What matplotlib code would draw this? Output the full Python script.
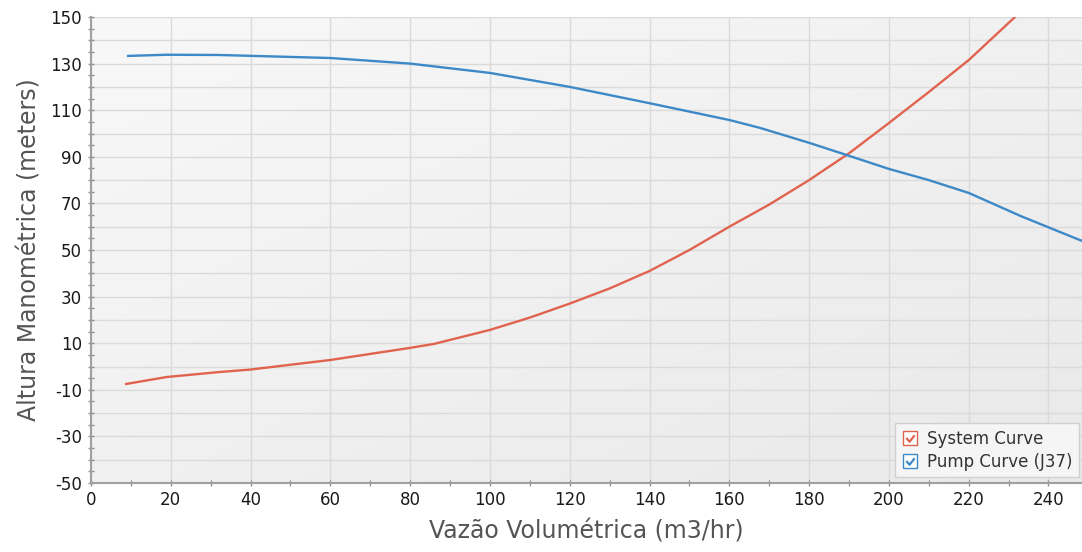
import matplotlib.pyplot as plt
import numpy as np
from matplotlib.lines import Line2D
from matplotlib.path import Path
from matplotlib.legend_handler import HandlerTuple
from matplotlib.colors import LinearSegmentedColormap

plt.rcParams['font.family'] = ['DejaVu Sans']

# curva do sistema
vazao_sis = [8.8, 19, 32, 40, 60, 80, 86, 100, 110, 120, 130, 140, 150,
             160, 170, 180, 190, 200, 210, 220, 231.6]
altura_sis = [-7.5, -4.5, -2.4, -1.3, 2.8, 8, 9.7, 15.7, 21, 27, 33.5, 41, 50,
              60, 69.5, 80, 91.5, 104.5, 117.8, 131.5, 150]

# curva da bomba (J37)
vazao_bomba = [9.3, 19, 32, 60, 80, 100, 120, 140, 160, 167.7, 180, 189,
               200, 210, 220, 233, 248.4]
altura_bomba = [133.3, 133.8, 133.7, 132.4, 130, 126, 120, 113, 105.8, 102.4,
                96, 91, 84.8, 80, 74.5, 64.6, 53.9]

cor_sis = '#e0634f'
cor_bomba = '#3d89c7'

fig = plt.figure(figsize=(10.82, 5.52), dpi=100)
ax = fig.add_axes([91/1082, 1 - 483/552, 1 - 91/1082, (483 - 17)/552])

# fundo em degrade
fundo = LinearSegmentedColormap.from_list('fundo', ['#f8f8f8', '#e9e9e9'])
gx, gy = np.meshgrid(np.linspace(0, 1, 200), np.linspace(0, 1, 200))
grad = 0.5 * gx + 0.5 * gy
ax.imshow(grad, extent=[0, 1, 0, 1], transform=ax.transAxes, aspect='auto',
          cmap=fundo, vmin=0, vmax=1, zorder=0, origin='upper')

ax.plot(vazao_sis, altura_sis, color=cor_sis, lw=1.7, zorder=3)
ax.plot(vazao_bomba, altura_bomba, color=cor_bomba, lw=1.7, zorder=3)

ax.set_xlim(0, 248.4)
ax.set_ylim(-50, 150)

ax.set_xticks(np.arange(0, 241, 20))
ax.set_xticks(np.arange(0, 249, 10), minor=True)
ax.set_yticks(np.arange(-50, 151, 10))
ax.set_yticklabels([str(v) if (v + 50) % 20 == 0 else '' for v in range(-50, 151, 10)])
ax.set_yticks(np.arange(-50, 151, 5), minor=True)

ax.grid(True, which='major', color='#dadada', lw=1, zorder=1)
ax.set_axisbelow(True)

for s in ['top', 'right']:
    ax.spines[s].set_visible(False)
for s in ['left', 'bottom']:
    ax.spines[s].set_color('#a0a0a0')
    ax.spines[s].set_linewidth(1.5)

ax.tick_params(which='both', direction='inout', length=5, width=1,
               color='#909090', labelsize=12, labelcolor='#1a1a1a')
ax.tick_params(axis='y', pad=4)
ax.tick_params(axis='x', pad=3)

ax.set_xlabel('Vazão Volumétrica (m3/hr)', fontsize=17, color='#555555', labelpad=8)
ax.set_ylabel('Altura Manométrica (meters)', fontsize=17, color='#555555', labelpad=6)

visto = Path([(-0.45, 0.05), (-0.1, -0.35), (0.45, 0.35)],
             [Path.MOVETO, Path.LINETO, Path.LINETO])

def caixa(cor):
    quad = Line2D([], [], marker='s', ls='none', markersize=10,
                  markerfacecolor='white', markeredgecolor=cor, markeredgewidth=1)
    check = Line2D([], [], marker=visto, ls='none', markersize=6,
                   markerfacecolor='none', markeredgecolor=cor, markeredgewidth=1.6)
    return (quad, check)

leg = ax.legend([caixa(cor_sis), caixa(cor_bomba)],
                ['System Curve', 'Pump Curve (J37)'],
                handler_map={tuple: HandlerTuple(ndivide=1, pad=0)},
                loc='lower right', bbox_to_anchor=(1.0, 0.005),
                fontsize=12, frameon=True, fancybox=False,
                handlelength=1.0, handletextpad=0.5, borderpad=0.4,
                labelspacing=0.3, borderaxespad=0.2)
leg.get_frame().set_facecolor('#f5f5f5')
leg.get_frame().set_edgecolor('#d0d0d0')
leg.get_frame().set_alpha(1)
for t in leg.get_texts():
    t.set_color('#333333')

fig.savefig('out.png', dpi=100)
